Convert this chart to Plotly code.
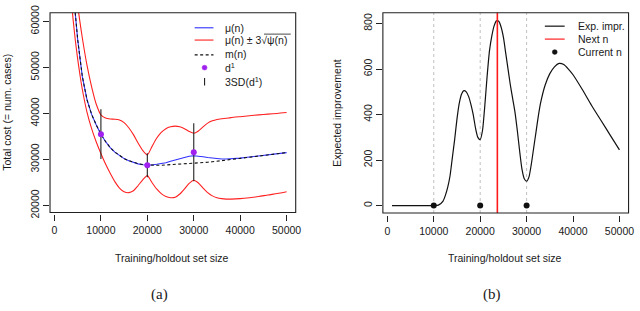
import plotly.graph_objects as go

# ---------------- data: left panel (a) ----------------
n_grid = [3500, 4000, 4500, 5000, 5500, 6000, 7000, 8000, 9000, 10000, 11000, 12000, 13000,
          14000, 15000, 16000, 17000, 18000, 19000, 20000, 21000, 22000, 23000, 24000, 25000,
          26000, 27000, 28000, 29000, 30000, 31000, 32000, 33000, 34000, 35000, 36000, 37000,
          38000, 40000, 42000, 44000, 46000, 48000, 50000]
mu = [75000, 67500, 61500, 56000, 51500, 48000, 43000, 39800, 37500, 35500, 33900, 32600, 31600,
      30800, 30200, 29750, 29350, 29050, 28850, 28750, 28800, 28950, 29100, 29300, 29600,
      29900, 30200, 30500, 30700, 30800, 30750, 30600, 30450, 30300, 30150, 30100, 30100,
      30150, 30300, 30550, 30800, 31000, 31250, 31500]
upper = [90000, 80000, 70000, 63500, 59800, 56400, 50500, 45800, 42000, 39700, 39000, 38800, 38750,
         38600, 38000, 36900, 35400, 33600, 32000, 31000, 32800, 34600, 35900, 36700, 37100,
         37250, 37100, 36700, 36100, 35700, 36200, 37100, 37900, 38400, 38700, 38850, 38950,
         39100, 39300, 39500, 39700, 39850, 40000, 40200]
lower = [66000, 60500, 55800, 51800, 48300, 45200, 40300, 36700, 33800, 31300, 29000, 27000, 25200,
         23800, 23000, 22800, 23200, 24300, 25600, 26500, 25000, 23600, 22600, 21950, 21700,
         21800, 22500, 23600, 24800, 25500, 24900, 23800, 22800, 22100, 21700, 21500, 21400,
         21400, 21500, 21700, 21950, 22300, 22600, 23000]
m_curve = [75000, 67500, 61500, 56000, 51500, 48000, 43000, 39800, 37500, 35500, 33900, 32600, 31600,
           30800, 30200, 29750, 29350, 29100, 28900, 28800, 28750, 28750, 28750, 28800, 28850,
           28900, 28950, 29000, 29050, 29100, 29200, 29300, 29400, 29500, 29650, 29750, 29850,
           30000, 30250, 30500, 30750, 31000, 31250, 31500]
d_n = [10000, 20000, 30000]
d_val = [35500, 28750, 31600]
sd_lo = [30100, 26150, 25300]
sd_hi = [40900, 31350, 37900]

# ---------------- data: right panel (b) ----------------
ei_n = [1000, 5000, 10000, 11000, 12000, 12500, 13000, 13500, 14000, 14500, 15000, 15500, 16000,
        16500, 17000, 17500, 18000, 18500, 19000, 19500, 20000, 20500, 21000, 21500, 22000, 22500,
        23000, 23500, 24000, 24500, 25000, 25500, 26000, 26500, 27000, 27500, 28000, 28500, 29000,
        29500, 30000, 30500, 31000, 31500, 32000, 32500, 33000, 34000, 35000, 36000, 37000, 38000,
        39000, 40000, 42000, 44000, 46000, 48000, 50000]
ei_val = [0, 0, 0, 2, 20, 45, 80, 130, 210, 290, 380, 450, 490,
          505, 500, 480, 445, 400, 340, 300, 290, 330, 440, 570, 680, 745,
          790, 812, 810, 785, 740, 670, 600, 530, 470, 410, 330, 240, 160,
          118, 107, 125, 180, 250, 320, 390, 450, 530, 580, 610, 625, 620,
          600, 575, 510, 440, 375, 310, 245]
current_n = [10000, 20000, 30000]
current_ei = [0, 0, 0]
next_n = 23700

x_ticks = [0, 10000, 20000, 30000, 40000, 50000]
x_tick_labels = ["0", "10000", "20000", "30000", "40000", "50000"]
y_ticks_a = [20000, 30000, 40000, 50000, 60000]
y_tick_labels_a = ["20000", "30000", "40000", "50000", "60000"]
y_ticks_b = [0, 200, 400, 600, 800]
y_tick_labels_b = ["0", "200", "400", "600", "800"]

W, H = 640, 311
FONT = "Liberation Sans, Arial, Helvetica, sans-serif"
TXT = "#1a1a1a"


def px(x):
    return x / W


def py(y):
    return 1 - y / H


fig = go.Figure()

# left panel traces
fig.add_trace(go.Scatter(x=n_grid, y=mu, mode="lines", line=dict(color="#3030ff", width=1.1),
                         xaxis="x", yaxis="y", showlegend=False))
fig.add_trace(go.Scatter(x=n_grid, y=upper, mode="lines", line=dict(color="#ff2020", width=1.1, shape="spline", smoothing=0.6),
                         xaxis="x", yaxis="y", showlegend=False))
fig.add_trace(go.Scatter(x=n_grid, y=lower, mode="lines", line=dict(color="#ff2020", width=1.1, shape="spline", smoothing=0.6),
                         xaxis="x", yaxis="y", showlegend=False))
fig.add_trace(go.Scatter(x=n_grid, y=m_curve, mode="lines", line=dict(color="#111111", width=1.1, dash="3px,2.5px"),
                         xaxis="x", yaxis="y", showlegend=False))
bx, by = [], []
for xn, lo, hi in zip(d_n, sd_lo, sd_hi):
    bx += [xn, xn, None]
    by += [lo, hi, None]
fig.add_trace(go.Scatter(x=bx, y=by, mode="lines", line=dict(color="#222222", width=1.1),
                         xaxis="x", yaxis="y", showlegend=False))
fig.add_trace(go.Scatter(x=d_n, y=d_val, mode="markers", marker=dict(color="#a020f0", size=6),
                         xaxis="x", yaxis="y", showlegend=False))

# right panel traces
for xn in current_n:
    fig.add_shape(type="line", xref="x2", yref="y2 domain", x0=xn, x1=xn, y0=0, y1=1,
                  line=dict(color="#c0c0c0", width=1, dash="3px,3px"), layer="below")
fig.add_trace(go.Scatter(x=ei_n, y=ei_val, mode="lines", line=dict(color="#111111", width=1.2, shape="spline", smoothing=0.6),
                         xaxis="x2", yaxis="y2", showlegend=False))
fig.add_shape(type="line", xref="x2", yref="y2 domain", x0=next_n, x1=next_n, y0=0, y1=1,
              line=dict(color="#ff1a1a", width=1.6))
fig.add_trace(go.Scatter(x=current_n, y=current_ei, mode="markers", marker=dict(color="#111111", size=6),
                         xaxis="x2", yaxis="y2", showlegend=False))

# boxes
for xr, yr in (("x", "y"), ("x2", "y2")):
    fig.add_shape(type="rect", xref=xr + " domain", yref=yr + " domain", x0=0, x1=1, y0=0, y1=1,
                  line=dict(color="#222222", width=1.1), fillcolor="rgba(0,0,0,0)")

axis_common = dict(showgrid=False, zeroline=False, showline=False, ticks="outside", ticklen=6,
                   tickwidth=1, tickcolor="#222222", anchor="free", ticklabeloverflow="allow",
                   tickfont=dict(family=FONT, size=10.5, color=TXT))

fig.update_layout(
    width=W, height=H, margin=dict(l=0, r=0, t=0, b=0),
    paper_bgcolor="white", plot_bgcolor="white", showlegend=False,
    xaxis=dict(domain=[px(50.5), px(298.5)], range=[-960, 51960], tickvals=x_ticks,
               ticktext=x_tick_labels, position=py(216.5), **axis_common),
    yaxis=dict(domain=[py(214.5), py(6)], range=[18480, 61875], tickvals=y_ticks_a,
               ticktext=y_tick_labels_a, tickangle=-90, position=px(49.5), **axis_common),
    xaxis2=dict(domain=[px(386.5), px(634.5)], range=[-960, 51960], tickvals=x_ticks,
                ticktext=x_tick_labels, position=py(217), **axis_common),
    yaxis2=dict(domain=[py(215), py(6)], range=[-32.6, 847.6], tickvals=y_ticks_b,
                ticktext=y_tick_labels_b, tickangle=-90, position=px(385.5), **axis_common),
)

ann = []


def text(x, y, s, size=10.5, angle=0, xanchor="center", family=FONT):
    ann.append(dict(x=px(x), y=py(y), xref="paper", yref="paper", text=s, showarrow=False,
                    xanchor=xanchor, yanchor="middle", textangle=angle,
                    font=dict(family=family, size=size, color=TXT)))


text(174, 262, "Training/holdout set size")
text(510, 262, "Training/holdout set size")
text(7.5, 110, "Total cost (= num. cases)", angle=-90)
text(340, 110.5, "Expected improvement", angle=-90)
text(161, 300, "(a)", size=15, family="Liberation Serif, Times New Roman, serif")
text(497, 300, "(b)", size=15, family="Liberation Serif, Times New Roman, serif")

# left legend (manual)
text(225, 21.7, "μ(n)", xanchor="left")
text(225, 34.5, "μ(n) ± 3√ψ(n)", xanchor="left")
text(225, 49, "m(n)", xanchor="left")
text(225, 63, "d<sup>1</sup>", xanchor="left")
text(225, 77.5, "3SD(d<sup>1</sup>)", xanchor="left")
fig.add_shape(type="line", xref="paper", yref="paper", x0=px(196.5), x1=px(215.5), y0=py(21.7), y1=py(21.7),
              line=dict(color="#3030ff", width=1.1))
fig.add_shape(type="line", xref="paper", yref="paper", x0=px(196.5), x1=px(215.5), y0=py(34.5), y1=py(34.5),
              line=dict(color="#ff2020", width=1.1))
fig.add_shape(type="line", xref="paper", yref="paper", x0=px(196.5), x1=px(215.5), y0=py(50), y1=py(50),
              line=dict(color="#111111", width=1.1, dash="3px,2.5px"))
fig.add_shape(type="circle", xref="paper", yref="paper", x0=px(204), x1=px(209), y0=py(60.8), y1=py(65.8),
              line=dict(color="#a020f0", width=0.5), fillcolor="#a020f0")
fig.add_shape(type="line", xref="paper", yref="paper", x0=px(206.5), x1=px(206.5), y0=py(74), y1=py(82),
              line=dict(color="#222222", width=1.1))
# overline of the square root
fig.add_shape(type="line", xref="paper", yref="paper", x0=px(266.5), x1=px(293.5), y0=py(28.3), y1=py(28.3),
              line=dict(color=TXT, width=0.8))

# right legend (manual)
text(581.5, 20, "Exp. impr.", xanchor="left")
text(581.5, 33.5, "Next n", xanchor="left")
text(581.5, 47, "Current n", xanchor="left")
fig.add_shape(type="line", xref="paper", yref="paper", x0=px(550), x1=px(570), y0=py(20), y1=py(20),
              line=dict(color="#111111", width=1.2))
fig.add_shape(type="line", xref="paper", yref="paper", x0=px(550), x1=px(570), y0=py(33.5), y1=py(33.5),
              line=dict(color="#ff2020", width=1.2))
fig.add_shape(type="circle", xref="paper", yref="paper", x0=px(557.5), x1=px(562.5), y0=py(44.5), y1=py(49.5),
              line=dict(color="#111111", width=0.5), fillcolor="#111111")

fig.update_layout(annotations=ann)
fig.write_html("out.html", config={"displayModeBar": False},
               post_script="document.body.style.margin='0px';document.body.style.overflow='hidden';")
